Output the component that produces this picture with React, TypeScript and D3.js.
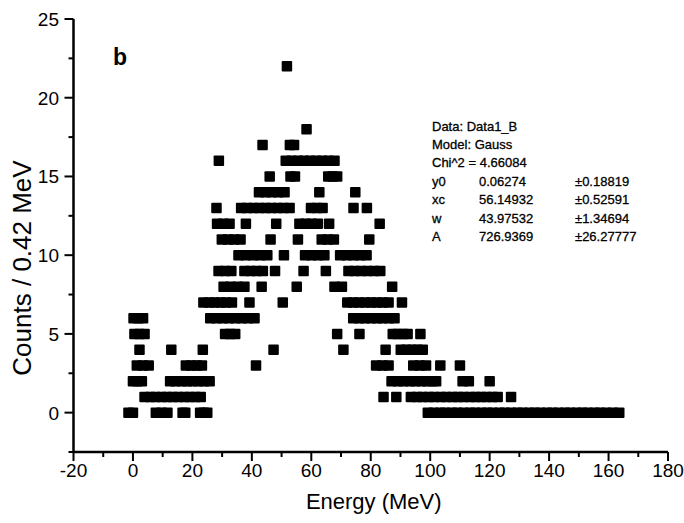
import React from "react";
import * as d3 from "d3";

// Energies (MeV) of the bins that hold a given count (counts per 0.42 MeV bin)
const e0 = [-1.5, 0, 7.7, 9.6, 11.6, 16.7, 17.6, 22.6, 23.8, 25, 99.2, 101.1, 103.4, 105.0, 107.3, 109.1, 111.2, 113.4, 115.1, 117.3, 119.2, 121.0, 123.3, 125.1, 127.2, 129.4, 131.1, 133.3, 135.2, 137.0, 139.3, 141.1, 143.2, 145.4, 147.1, 149.3, 151.2, 153.0, 155.3, 157.1, 159.2, 161.4, 163.6];
const e1 = [3.9, 5.8, 7.6, 9.7, 11.5, 13.4, 15.2, 17.3, 19.1, 21.0, 22.8, 84.3, 88.6, 93.5, 95.6, 97.4, 99.5, 101.3, 103.6, 105.4, 107.5, 109.3, 111.2, 113.4, 115.3, 117.1, 119.0, 120.9, 122.7, 127.2];
const e2 = [0, 1.5, 3.0, 12.5, 14.3, 16.4, 18.2, 20.1, 22.0, 23.9, 25.8, 87.0, 89.1, 91.0, 93.2, 95.0, 97.1, 98.9, 100.8, 102.0, 110.9, 113.0, 120.0];
const e3 = [1.3, 3.3, 5.3, 17.8, 19.6, 21.5, 23.2, 41.4, 81.8, 83.9, 86.0, 94.3, 96.5, 98.6, 103.4, 110.0];
const e4 = [2.2, 12.9, 23.5, 47.3, 70.8, 85.0, 90.1, 92.0, 93.9, 95.7, 97.5];
const e5 = [0.5, 2.2, 3.9, 31.0, 32.7, 34.4, 68.7, 76.2, 87.4, 89.1, 90.8, 92.4, 96.7];
const e6 = [0.2, 1.8, 3.4, 26.0, 28.1, 30.2, 32.3, 34.4, 36.6, 38.7, 40.9, 74.1, 76.1, 78.0, 80.1, 82.1, 84.0, 86.1, 88.0];
const e7 = [23.7, 25.6, 27.5, 29.4, 31.3, 33.3, 39.2, 50.4, 72.1, 74.1, 76.0, 78.1, 80.1, 82.0, 84.0, 86.0, 90.5];
const e8 = [30.5, 32.8, 35.2, 37.5, 43.3, 55.1, 67.8, 70.3, 87.2];
const e9 = [28.8, 31.0, 33.1, 37.5, 39.6, 41.6, 43.7, 47.8, 57.4, 64.9, 72.5, 74.6, 76.8, 78.9, 81.1, 83.2];
const e10 = [35.5, 37.9, 40.4, 42.8, 45.2, 50.8, 57.9, 60.1, 62.2, 64.4, 69.7, 71.9, 74.2, 76.4, 78.6];
const e11 = [29.9, 32.0, 34.1, 36.2, 46.3, 55.5, 63.5, 65.5, 67.6, 79.5];
const e12 = [28.3, 30.4, 32.5, 38.0, 48.2, 56.0, 58.1, 60.1, 62.2, 66.0, 83.0];
const e13 = [28.1, 36.4, 38.4, 40.5, 42.5, 44.6, 46.6, 48.7, 50.7, 52.7, 59.9, 61.9, 63.8, 74.2, 78.7];
const e14 = [42.4, 44.6, 46.7, 48.9, 51.0, 62.7, 74.8];
const e15 = [46.0, 53.0, 54.5, 65.7, 67.2, 68.7];
const e16 = [28.9, 51.4, 53.4, 55.5, 57.5, 59.6, 61.6, 63.7, 65.7, 67.8];
const e17 = [43.6, 52.8, 54.2];
const e18 = [58.4];
const e22 = [51.8];

const countLevels = [0, 1, 2, 3, 4, 5, 6, 7, 8, 9, 10, 11, 12, 13, 14, 15, 16, 17, 18, 22];
const energiesByLevel = [e0, e1, e2, e3, e4, e5, e6, e7, e8, e9, e10, e11, e12, e13, e14, e15, e16, e17, e18, e22];

const xMajorTicks = [-20, 0, 20, 40, 60, 80, 100, 120, 140, 160, 180];
const xMinorTicks = [-10, 10, 30, 50, 70, 90, 110, 130, 150, 170];
const yMajorTicks = [0, 5, 10, 15, 20, 25];
const yMinorTicks = [-2.5, 2.5, 7.5, 12.5, 17.5, 22.5];

const fitHeader = ["Data: Data1_B", "Model: Gauss", "Chi^2 = 4.66084"];
const paramNames = ["y0", "xc", "w", "A"];
const paramValues = ["0.06274", "56.14932", "43.97532", "726.9369"];
const paramErrors = ["\u00B10.18819", "\u00B10.52591", "\u00B11.34694", "\u00B126.27777"];

const FONT = "'Liberation Sans', Arial, Helvetica, sans-serif";

export default function App() {
  const W = 684, H = 523;
  const x = d3.scaleLinear().domain([-20, 180]).range([73.5, 668]);
  const y = d3.scaleLinear().domain([-2.5, 25]).range([452, 19]);
  const S = 10.5;

  const points: { e: number; c: number }[] = [];
  countLevels.forEach((c, i) => energiesByLevel[i].forEach((e) => points.push({ e, c })));

  const rowY0 = 126;
  const rowStep = 18.4;
  const tx = 432;

  return (
    <svg width={W} height={H} style={{ position: "absolute", left: 0, top: 0, background: "#fff" }} fontFamily={FONT}>
      <rect x={0} y={0} width={W} height={H} fill="#fff" />
      {/* points */}
      <g fill="#000">
        {points.map((p, i) => (
          <rect key={i} x={x(p.e) - S / 2} y={y(p.c) - S / 2} width={S} height={S} rx={1} />
        ))}
      </g>
      {/* axes */}
      <g stroke="#000" strokeWidth={2.5} fill="none">
        <line x1={x(-20)} x2={x(180)} y1={y(-2.5)} y2={y(-2.5)} />
        <line x1={x(-20)} x2={x(-20)} y1={y(-2.5)} y2={y(25)} />
      </g>
      <g stroke="#000" strokeWidth={2}>
        {xMajorTicks.map((t) => (
          <line key={"xM" + t} x1={x(t)} x2={x(t)} y1={y(-2.5)} y2={y(-2.5) + 9} />
        ))}
        {xMinorTicks.map((t) => (
          <line key={"xm" + t} x1={x(t)} x2={x(t)} y1={y(-2.5)} y2={y(-2.5) + 5} />
        ))}
        {yMajorTicks.map((t) => (
          <line key={"yM" + t} x1={x(-20) - 9} x2={x(-20)} y1={y(t)} y2={y(t)} />
        ))}
        {yMinorTicks.map((t) => (
          <line key={"ym" + t} x1={x(-20) - 5} x2={x(-20)} y1={y(t)} y2={y(t)} />
        ))}
      </g>
      <g fontSize={19} fill="#000" textAnchor="middle">
        {xMajorTicks.map((t) => (
          <text key={"xl" + t} x={x(t)} y={477}>{t}</text>
        ))}
      </g>
      <g fontSize={19} fill="#000" textAnchor="end">
        {yMajorTicks.map((t) => (
          <text key={"yl" + t} x={59} y={y(t) + 7}>{t}</text>
        ))}
      </g>
      <text x={(x(-20) + x(180)) / 2 + 3} y={509} fontSize={22} textAnchor="middle" fill="#000">Energy (MeV)</text>
      <text transform={`translate(31, 268) rotate(-90)`} fontSize={26} textAnchor="middle" fill="#000">Counts / 0.42 MeV</text>
      <text x={113} y={65} fontSize={23} fontWeight="bold" fill="#000">b</text>
      {/* fit annotation */}
      <g fontSize={13} fill="#000" stroke="#000" strokeWidth={0.3}>
        {fitHeader.map((t, i) => (
          <text key={"h" + i} x={tx} y={rowY0 + 4.5 + i * rowStep}>{t}</text>
        ))}
        {paramNames.map((n, i) => (
          <g key={"p" + n}>
            <text x={tx} y={rowY0 + 4.5 + (i + 3) * rowStep}>{n}</text>
            <text x={479} y={rowY0 + 4.5 + (i + 3) * rowStep}>{paramValues[i]}</text>
            <text x={575} y={rowY0 + 4.5 + (i + 3) * rowStep}>{paramErrors[i]}</text>
          </g>
        ))}
      </g>
    </svg>
  );
}
